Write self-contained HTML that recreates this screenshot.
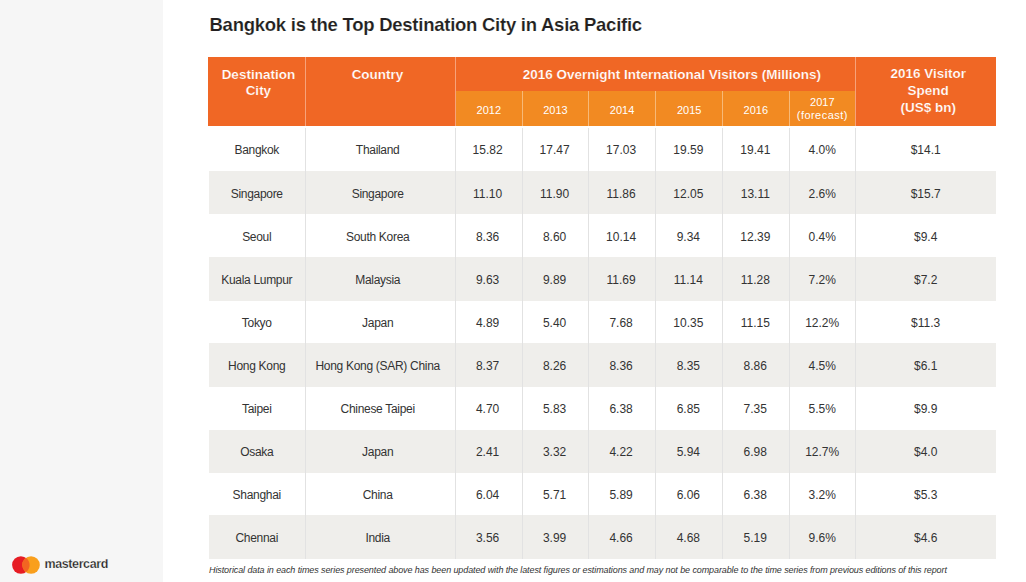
<!DOCTYPE html>
<html><head><meta charset="utf-8"><style>
html,body{margin:0;padding:0;}
body{width:1026px;height:582px;position:relative;overflow:hidden;background:#fff;font-family:"Liberation Sans",sans-serif;color:#333333;}
.a{position:absolute;}
.t{position:absolute;white-space:nowrap;text-align:center;width:400px;}
.w{color:#fff;}
</style></head><body>

<div class="a" style="left:0;top:0;width:163px;height:582px;background:#f6f6f6"></div>
<div class="t " style="left:209.50px;width:auto;text-align:left;top:13.79px;font-size:18.5px;line-height:22px;font-weight:bold;color:#231f20;-webkit-text-stroke:0.15px #fff;letter-spacing:-0.25px">Bangkok is the Top Destination City in Asia Pacific</div>
<div class="a" style="left:208.00px;top:56.70px;width:788.00px;height:69.70px;background:#f06725"></div>
<div class="a" style="left:455.30px;top:90.50px;width:400.10px;height:35.90px;background:#f28a22"></div>
<div class="a" style="left:209px;top:170.90px;width:787.00px;height:43.40px;background:#efeeeb"></div>
<div class="a" style="left:209px;top:256.90px;width:787.00px;height:43.85px;background:#efeeeb"></div>
<div class="a" style="left:209px;top:343.10px;width:787.00px;height:43.50px;background:#efeeeb"></div>
<div class="a" style="left:209px;top:429.50px;width:787.00px;height:43.40px;background:#efeeeb"></div>
<div class="a" style="left:209px;top:515.00px;width:787.00px;height:43.90px;background:#efeeeb"></div>
<div class="a" style="left:305.00px;top:127.90px;width:1px;height:431.00px;background:#e2e2e2"></div>
<div class="a" style="left:454.80px;top:127.90px;width:1px;height:431.00px;background:#e2e2e2"></div>
<div class="a" style="left:521.80px;top:127.90px;width:1px;height:431.00px;background:#e2e2e2"></div>
<div class="a" style="left:588.00px;top:127.90px;width:1px;height:431.00px;background:#e2e2e2"></div>
<div class="a" style="left:655.20px;top:127.90px;width:1px;height:431.00px;background:#e2e2e2"></div>
<div class="a" style="left:722.10px;top:127.90px;width:1px;height:431.00px;background:#e2e2e2"></div>
<div class="a" style="left:788.50px;top:127.90px;width:1px;height:431.00px;background:#e2e2e2"></div>
<div class="a" style="left:854.90px;top:127.90px;width:1px;height:431.00px;background:#e2e2e2"></div>
<div class="a" style="left:305.00px;top:56.70px;width:1px;height:69.70px;background:#f7a27a"></div>
<div class="a" style="left:454.80px;top:56.70px;width:1px;height:69.70px;background:#f7a27a"></div>
<div class="a" style="left:854.90px;top:56.70px;width:1px;height:69.70px;background:#f7a27a"></div>
<div class="a" style="left:521.80px;top:90.50px;width:1px;height:35.90px;background:#f7b978"></div>
<div class="a" style="left:588.00px;top:90.50px;width:1px;height:35.90px;background:#f7b978"></div>
<div class="a" style="left:655.20px;top:90.50px;width:1px;height:35.90px;background:#f7b978"></div>
<div class="a" style="left:722.10px;top:90.50px;width:1px;height:35.90px;background:#f7b978"></div>
<div class="a" style="left:788.50px;top:90.50px;width:1px;height:35.90px;background:#f7b978"></div>
<div class="t w" style="left:58.40px;top:66.52px;font-size:13.5px;line-height:16px;font-weight:bold;-webkit-text-stroke:0.2px #f06725;">Destination</div>
<div class="t w" style="left:58.40px;top:83.02px;font-size:13.5px;line-height:16px;font-weight:bold;-webkit-text-stroke:0.2px #f06725;">City</div>
<div class="t w" style="left:177.50px;top:66.52px;font-size:13.5px;line-height:16px;font-weight:bold;-webkit-text-stroke:0.2px #f06725;">Country</div>
<div class="t w" style="left:471.90px;top:66.62px;font-size:13.5px;line-height:16px;font-weight:bold;-webkit-text-stroke:0.2px #f06725;">2016 Overnight International Visitors (Millions)</div>
<div class="t w" style="left:728.20px;top:66.12px;font-size:13.5px;line-height:16px;font-weight:bold;-webkit-text-stroke:0.2px #f06725;">2016 Visitor</div>
<div class="t w" style="left:728.20px;top:82.92px;font-size:13.5px;line-height:16px;font-weight:bold;-webkit-text-stroke:0.2px #f06725;">Spend</div>
<div class="t w" style="left:728.20px;top:99.82px;font-size:13.5px;line-height:16px;font-weight:bold;-webkit-text-stroke:0.2px #f06725;">(US$ bn)</div>
<div class="t w" style="left:288.80px;top:103.59px;font-size:11px;line-height:13px;">2012</div>
<div class="t w" style="left:355.40px;top:103.59px;font-size:11px;line-height:13px;">2013</div>
<div class="t w" style="left:422.10px;top:103.59px;font-size:11px;line-height:13px;">2014</div>
<div class="t w" style="left:489.15px;top:103.59px;font-size:11px;line-height:13px;">2015</div>
<div class="t w" style="left:555.80px;top:103.59px;font-size:11px;line-height:13px;">2016</div>
<div class="t w" style="left:622.30px;top:96.39px;font-size:11px;line-height:13px;">2017</div>
<div class="t w" style="left:622.30px;top:109.39px;font-size:11px;line-height:13px;letter-spacing:0.45px">(forecast)</div>
<div class="t " style="left:56.75px;top:142.69px;font-size:12px;line-height:14px;letter-spacing:-0.3px;">Bangkok</div>
<div class="t " style="left:177.70px;top:142.69px;font-size:12px;line-height:14px;letter-spacing:-0.3px;">Thailand</div>
<div class="t " style="left:287.60px;top:142.69px;font-size:12px;line-height:14px;">15.82</div>
<div class="t " style="left:354.60px;top:142.69px;font-size:12px;line-height:14px;">17.47</div>
<div class="t " style="left:421.10px;top:142.69px;font-size:12px;line-height:14px;">17.03</div>
<div class="t " style="left:488.35px;top:142.69px;font-size:12px;line-height:14px;">19.59</div>
<div class="t " style="left:555.30px;top:142.69px;font-size:12px;line-height:14px;">19.41</div>
<div class="t " style="left:622.20px;top:142.69px;font-size:12px;line-height:14px;">4.0%</div>
<div class="t " style="left:725.70px;top:142.69px;font-size:12px;line-height:14px;">$14.1</div>
<div class="t " style="left:56.75px;top:186.64px;font-size:12px;line-height:14px;letter-spacing:-0.3px;">Singapore</div>
<div class="t " style="left:177.70px;top:186.64px;font-size:12px;line-height:14px;letter-spacing:-0.3px;">Singapore</div>
<div class="t " style="left:287.60px;top:186.64px;font-size:12px;line-height:14px;">11.10</div>
<div class="t " style="left:354.60px;top:186.64px;font-size:12px;line-height:14px;">11.90</div>
<div class="t " style="left:421.10px;top:186.64px;font-size:12px;line-height:14px;">11.86</div>
<div class="t " style="left:488.35px;top:186.64px;font-size:12px;line-height:14px;">12.05</div>
<div class="t " style="left:555.30px;top:186.64px;font-size:12px;line-height:14px;">13.11</div>
<div class="t " style="left:622.20px;top:186.64px;font-size:12px;line-height:14px;">2.6%</div>
<div class="t " style="left:725.70px;top:186.64px;font-size:12px;line-height:14px;">$15.7</div>
<div class="t " style="left:56.75px;top:229.64px;font-size:12px;line-height:14px;letter-spacing:-0.3px;">Seoul</div>
<div class="t " style="left:177.70px;top:229.64px;font-size:12px;line-height:14px;letter-spacing:-0.3px;">South Korea</div>
<div class="t " style="left:287.60px;top:229.64px;font-size:12px;line-height:14px;">8.36</div>
<div class="t " style="left:354.60px;top:229.64px;font-size:12px;line-height:14px;">8.60</div>
<div class="t " style="left:421.10px;top:229.64px;font-size:12px;line-height:14px;">10.14</div>
<div class="t " style="left:488.35px;top:229.64px;font-size:12px;line-height:14px;">9.34</div>
<div class="t " style="left:555.30px;top:229.64px;font-size:12px;line-height:14px;">12.39</div>
<div class="t " style="left:622.20px;top:229.64px;font-size:12px;line-height:14px;">0.4%</div>
<div class="t " style="left:725.70px;top:229.64px;font-size:12px;line-height:14px;">$9.4</div>
<div class="t " style="left:56.75px;top:272.87px;font-size:12px;line-height:14px;letter-spacing:-0.3px;">Kuala Lumpur</div>
<div class="t " style="left:177.70px;top:272.87px;font-size:12px;line-height:14px;letter-spacing:-0.3px;">Malaysia</div>
<div class="t " style="left:287.60px;top:272.87px;font-size:12px;line-height:14px;">9.63</div>
<div class="t " style="left:354.60px;top:272.87px;font-size:12px;line-height:14px;">9.89</div>
<div class="t " style="left:421.10px;top:272.87px;font-size:12px;line-height:14px;">11.69</div>
<div class="t " style="left:488.35px;top:272.87px;font-size:12px;line-height:14px;">11.14</div>
<div class="t " style="left:555.30px;top:272.87px;font-size:12px;line-height:14px;">11.28</div>
<div class="t " style="left:622.20px;top:272.87px;font-size:12px;line-height:14px;">7.2%</div>
<div class="t " style="left:725.70px;top:272.87px;font-size:12px;line-height:14px;">$7.2</div>
<div class="t " style="left:56.75px;top:315.97px;font-size:12px;line-height:14px;letter-spacing:-0.3px;">Tokyo</div>
<div class="t " style="left:177.70px;top:315.97px;font-size:12px;line-height:14px;letter-spacing:-0.3px;">Japan</div>
<div class="t " style="left:287.60px;top:315.97px;font-size:12px;line-height:14px;">4.89</div>
<div class="t " style="left:354.60px;top:315.97px;font-size:12px;line-height:14px;">5.40</div>
<div class="t " style="left:421.10px;top:315.97px;font-size:12px;line-height:14px;">7.68</div>
<div class="t " style="left:488.35px;top:315.97px;font-size:12px;line-height:14px;">10.35</div>
<div class="t " style="left:555.30px;top:315.97px;font-size:12px;line-height:14px;">11.15</div>
<div class="t " style="left:622.20px;top:315.97px;font-size:12px;line-height:14px;">12.2%</div>
<div class="t " style="left:725.70px;top:315.97px;font-size:12px;line-height:14px;">$11.3</div>
<div class="t " style="left:56.75px;top:358.89px;font-size:12px;line-height:14px;letter-spacing:-0.3px;">Hong Kong</div>
<div class="t " style="left:177.70px;top:358.89px;font-size:12px;line-height:14px;letter-spacing:-0.3px;">Hong Kong (SAR) China</div>
<div class="t " style="left:287.60px;top:358.89px;font-size:12px;line-height:14px;">8.37</div>
<div class="t " style="left:354.60px;top:358.89px;font-size:12px;line-height:14px;">8.26</div>
<div class="t " style="left:421.10px;top:358.89px;font-size:12px;line-height:14px;">8.36</div>
<div class="t " style="left:488.35px;top:358.89px;font-size:12px;line-height:14px;">8.35</div>
<div class="t " style="left:555.30px;top:358.89px;font-size:12px;line-height:14px;">8.86</div>
<div class="t " style="left:622.20px;top:358.89px;font-size:12px;line-height:14px;">4.5%</div>
<div class="t " style="left:725.70px;top:358.89px;font-size:12px;line-height:14px;">$6.1</div>
<div class="t " style="left:56.75px;top:402.09px;font-size:12px;line-height:14px;letter-spacing:-0.3px;">Taipei</div>
<div class="t " style="left:177.70px;top:402.09px;font-size:12px;line-height:14px;letter-spacing:-0.3px;">Chinese Taipei</div>
<div class="t " style="left:287.60px;top:402.09px;font-size:12px;line-height:14px;">4.70</div>
<div class="t " style="left:354.60px;top:402.09px;font-size:12px;line-height:14px;">5.83</div>
<div class="t " style="left:421.10px;top:402.09px;font-size:12px;line-height:14px;">6.38</div>
<div class="t " style="left:488.35px;top:402.09px;font-size:12px;line-height:14px;">6.85</div>
<div class="t " style="left:555.30px;top:402.09px;font-size:12px;line-height:14px;">7.35</div>
<div class="t " style="left:622.20px;top:402.09px;font-size:12px;line-height:14px;">5.5%</div>
<div class="t " style="left:725.70px;top:402.09px;font-size:12px;line-height:14px;">$9.9</div>
<div class="t " style="left:56.75px;top:445.24px;font-size:12px;line-height:14px;letter-spacing:-0.3px;">Osaka</div>
<div class="t " style="left:177.70px;top:445.24px;font-size:12px;line-height:14px;letter-spacing:-0.3px;">Japan</div>
<div class="t " style="left:287.60px;top:445.24px;font-size:12px;line-height:14px;">2.41</div>
<div class="t " style="left:354.60px;top:445.24px;font-size:12px;line-height:14px;">3.32</div>
<div class="t " style="left:421.10px;top:445.24px;font-size:12px;line-height:14px;">4.22</div>
<div class="t " style="left:488.35px;top:445.24px;font-size:12px;line-height:14px;">5.94</div>
<div class="t " style="left:555.30px;top:445.24px;font-size:12px;line-height:14px;">6.98</div>
<div class="t " style="left:622.20px;top:445.24px;font-size:12px;line-height:14px;">12.7%</div>
<div class="t " style="left:725.70px;top:445.24px;font-size:12px;line-height:14px;">$4.0</div>
<div class="t " style="left:56.75px;top:487.99px;font-size:12px;line-height:14px;letter-spacing:-0.3px;">Shanghai</div>
<div class="t " style="left:177.70px;top:487.99px;font-size:12px;line-height:14px;letter-spacing:-0.3px;">China</div>
<div class="t " style="left:287.60px;top:487.99px;font-size:12px;line-height:14px;">6.04</div>
<div class="t " style="left:354.60px;top:487.99px;font-size:12px;line-height:14px;">5.71</div>
<div class="t " style="left:421.10px;top:487.99px;font-size:12px;line-height:14px;">5.89</div>
<div class="t " style="left:488.35px;top:487.99px;font-size:12px;line-height:14px;">6.06</div>
<div class="t " style="left:555.30px;top:487.99px;font-size:12px;line-height:14px;">6.38</div>
<div class="t " style="left:622.20px;top:487.99px;font-size:12px;line-height:14px;">3.2%</div>
<div class="t " style="left:725.70px;top:487.99px;font-size:12px;line-height:14px;">$5.3</div>
<div class="t " style="left:56.75px;top:530.99px;font-size:12px;line-height:14px;letter-spacing:-0.3px;">Chennai</div>
<div class="t " style="left:177.70px;top:530.99px;font-size:12px;line-height:14px;letter-spacing:-0.3px;">India</div>
<div class="t " style="left:287.60px;top:530.99px;font-size:12px;line-height:14px;">3.56</div>
<div class="t " style="left:354.60px;top:530.99px;font-size:12px;line-height:14px;">3.99</div>
<div class="t " style="left:421.10px;top:530.99px;font-size:12px;line-height:14px;">4.66</div>
<div class="t " style="left:488.35px;top:530.99px;font-size:12px;line-height:14px;">4.68</div>
<div class="t " style="left:555.30px;top:530.99px;font-size:12px;line-height:14px;">5.19</div>
<div class="t " style="left:622.20px;top:530.99px;font-size:12px;line-height:14px;">9.6%</div>
<div class="t " style="left:725.70px;top:530.99px;font-size:12px;line-height:14px;">$4.6</div>
<div class="t " style="left:209.00px;width:auto;text-align:left;top:565.28px;font-size:9px;line-height:11px;font-style:italic;color:#333;letter-spacing:-0.1px">Historical data in each times series presented above has been updated with the latest figures or estimations and may not be comparable to the time series from previous editions of this report</div>
<svg class="a" style="left:0;top:540px" width="60" height="42" viewBox="0 540 60 42"><circle cx="20.85" cy="564.95" r="8.75" fill="#e61c24"/><circle cx="31.05" cy="564.95" r="8.75" fill="#f99f1c"/><path d="M25.95 557.84A8.75 8.75 0 0 1 25.95 572.06A8.75 8.75 0 0 1 25.95 557.84Z" fill="#f26522"/></svg>
<div class="t " style="left:44.50px;width:auto;text-align:left;top:557.17px;font-size:12.5px;line-height:15px;color:#231f20;font-weight:bold;-webkit-text-stroke:0.25px #f6f6f6;letter-spacing:-0.4px">mastercard</div>
</body></html>
